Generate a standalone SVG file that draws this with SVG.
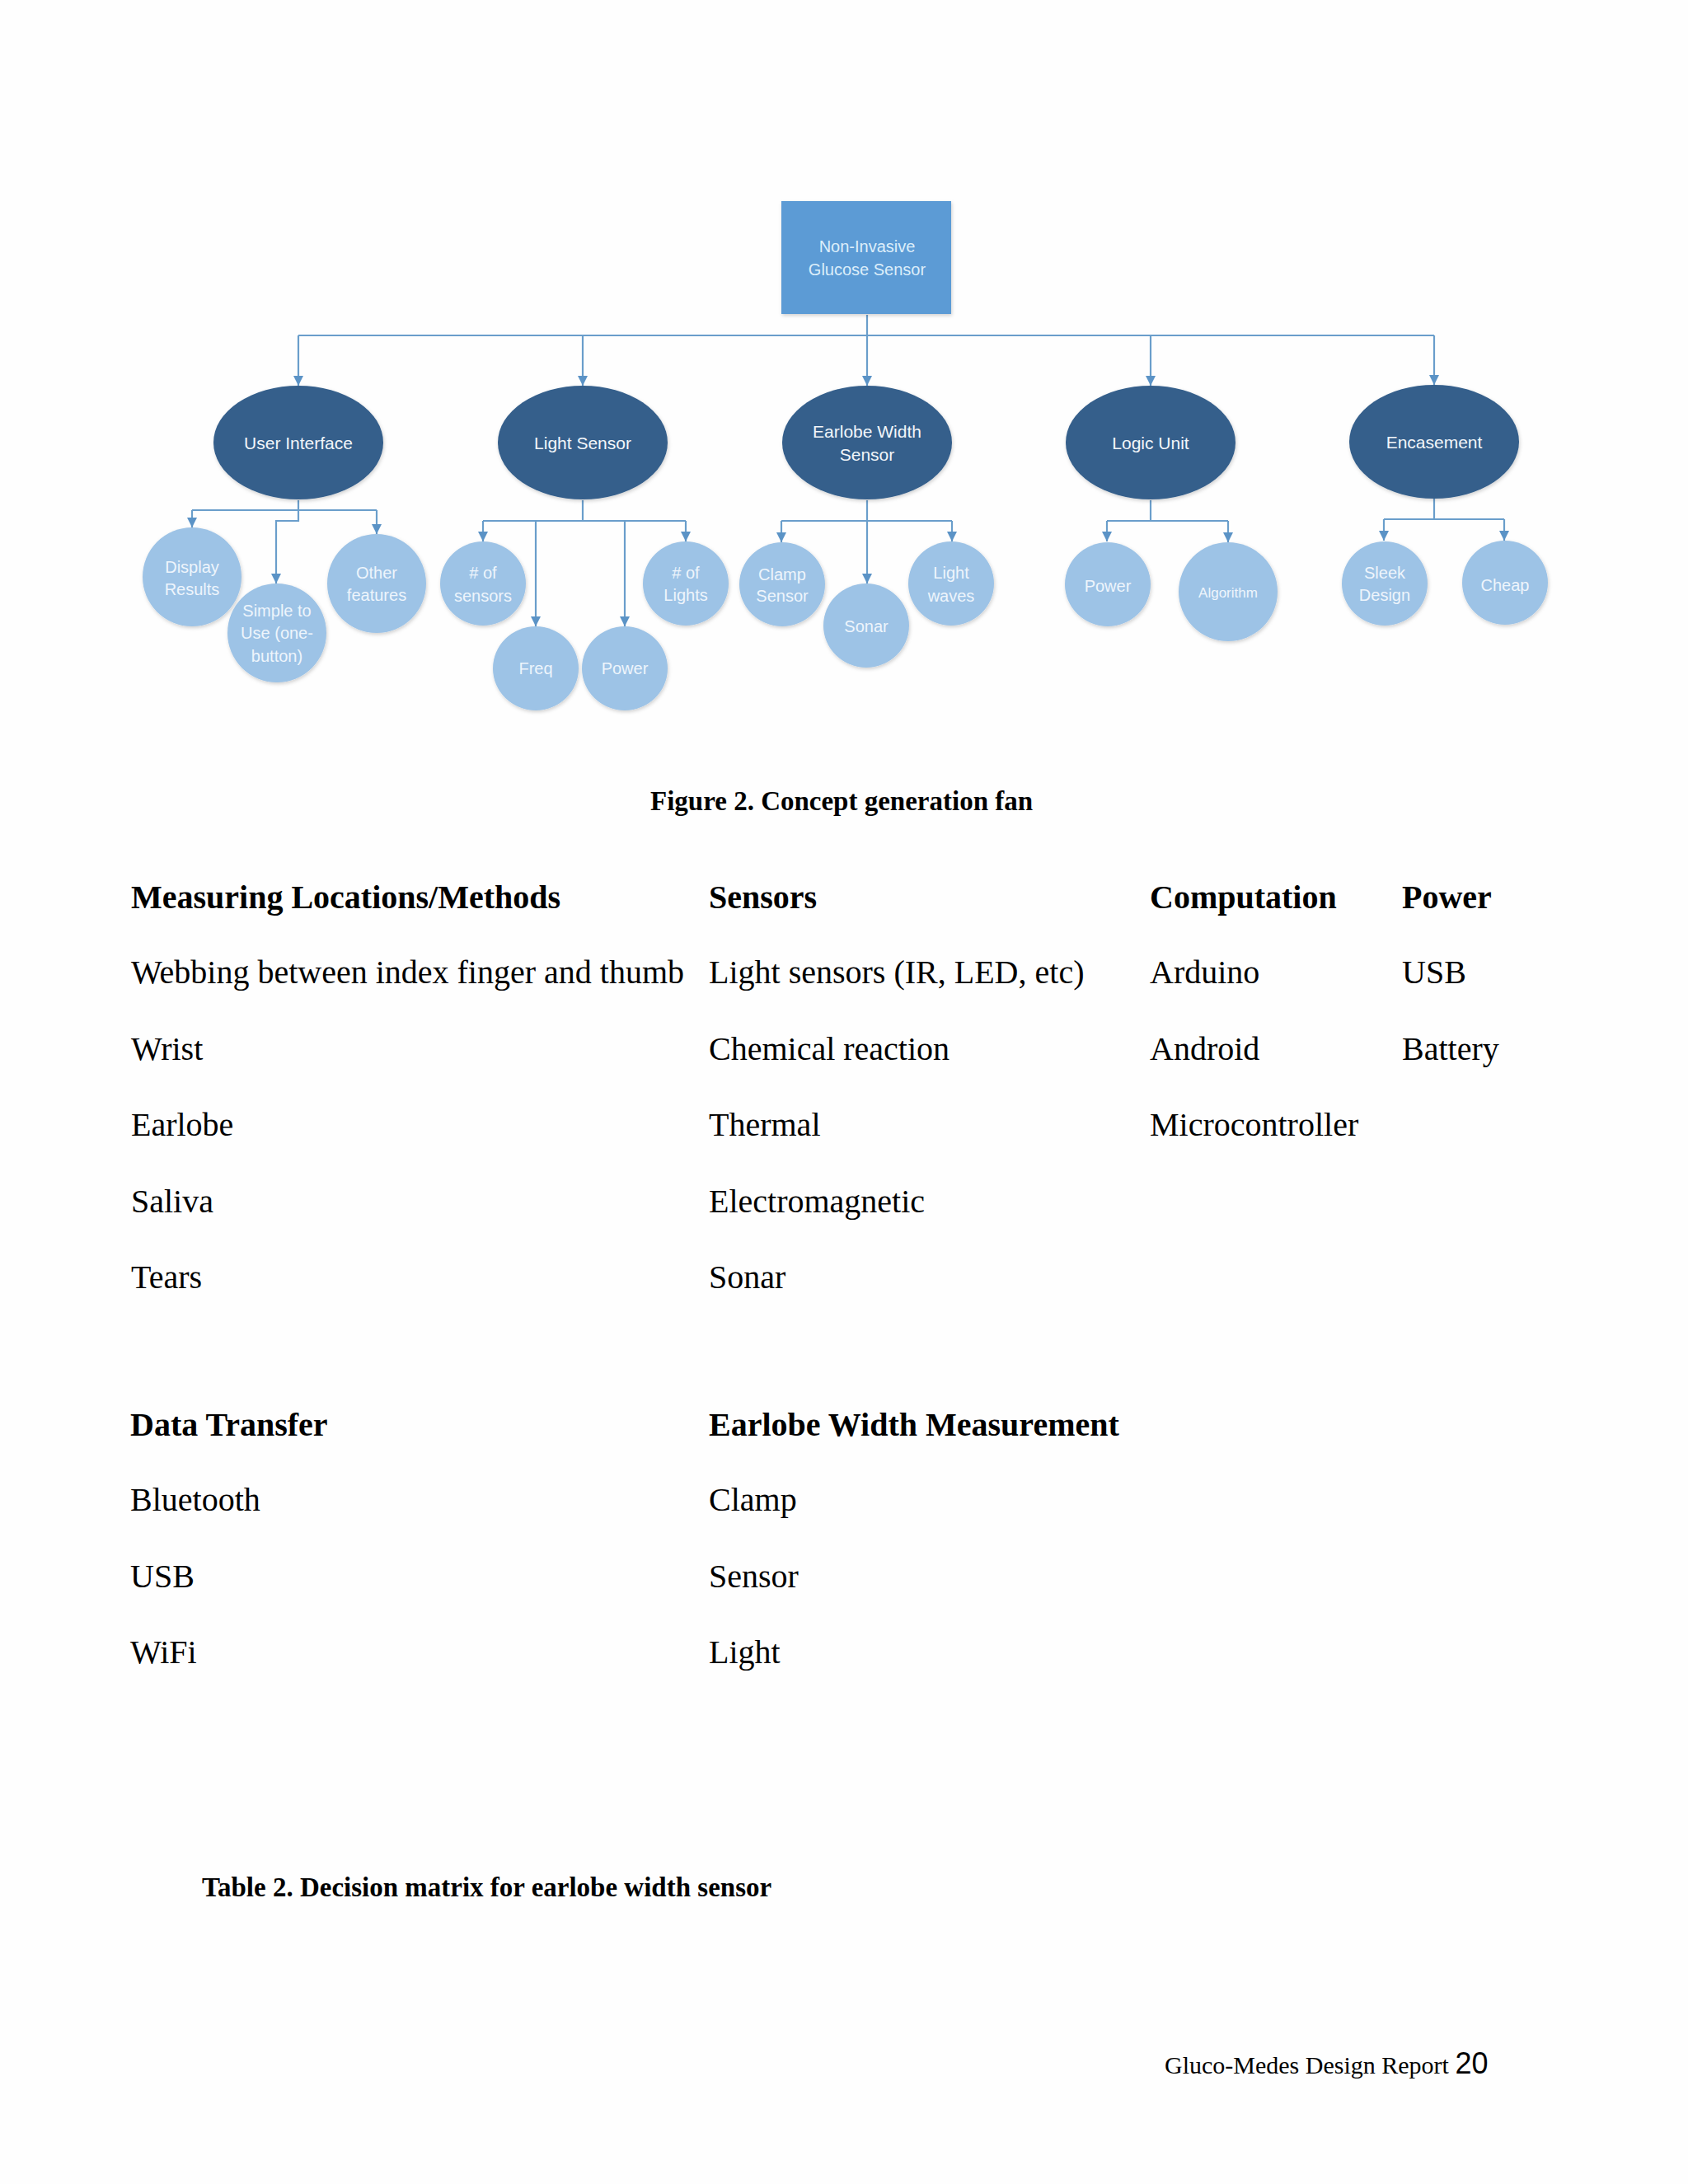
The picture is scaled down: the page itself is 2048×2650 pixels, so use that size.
<svg xmlns="http://www.w3.org/2000/svg" width="2048" height="2650" viewBox="0 0 2048 2650">
<style>
.root{fill:#5b9bd5;}
.l1{fill:#355f8b;}
.l2{fill:#9dc3e6;}
.conn{fill:none;stroke:#6a9ecb;stroke-width:2.2;}
.t0{font-family:"Liberation Sans",Arial,sans-serif;font-size:20px;fill:#dceefa;text-anchor:middle;}
.t1{font-family:"Liberation Sans",Arial,sans-serif;font-size:21px;fill:#f2f6fa;text-anchor:middle;}
.t2{font-family:"Liberation Sans",Arial,sans-serif;font-size:20px;fill:#eef5fc;text-anchor:middle;}
.t2s{font-family:"Liberation Sans",Arial,sans-serif;font-size:17px;fill:#eef5fc;text-anchor:middle;}
.body{font-family:"Liberation Serif","Times New Roman",serif;font-size:40px;fill:#000;}
.head{font-family:"Liberation Serif","Times New Roman",serif;font-size:40px;font-weight:bold;fill:#000;}
.cap{font-family:"Liberation Serif","Times New Roman",serif;font-size:33px;font-weight:bold;fill:#000;}
.foot{font-family:"Liberation Serif","Times New Roman",serif;font-size:30px;fill:#000;}
</style>
<defs>
<marker id="ad" markerUnits="userSpaceOnUse" markerWidth="14" markerHeight="14" viewBox="0 0 14 14" refX="7" refY="13" orient="0">
<path d="M1,1 L13,1 L7,13 Z" fill="#5b93c6"/>
</marker>
<filter id="sh" x="-20%" y="-20%" width="140%" height="140%">
<feDropShadow dx="1" dy="2" stdDeviation="2" flood-color="#000" flood-opacity="0.18"/>
</filter>
</defs>
<rect x="0" y="0" width="2048" height="2650" fill="#fefefe"/>

<g id="connectors" class="conn">
<path d="M1052,382 V407"/>
<path d="M362,407 H1740"/>
<path d="M362,407 V468" marker-end="url(#ad)"/>
<path d="M707,407 V468" marker-end="url(#ad)"/>
<path d="M1052,407 V468" marker-end="url(#ad)"/>
<path d="M1396,407 V468" marker-end="url(#ad)"/>
<path d="M1740,407 V467" marker-end="url(#ad)"/>

<path d="M362,607 V632 H335 V708" marker-end="url(#ad)"/>
<path d="M233,619 H457"/>
<path d="M233,619 V640" marker-end="url(#ad)"/>
<path d="M457,619 V648" marker-end="url(#ad)"/>

<path d="M707,607 V632"/>
<path d="M586,632 H832"/>
<path d="M586,632 V657" marker-end="url(#ad)"/>
<path d="M832,632 V657" marker-end="url(#ad)"/>
<path d="M650,632 V760" marker-end="url(#ad)"/>
<path d="M758,632 V760" marker-end="url(#ad)"/>

<path d="M1052,607 V708" marker-end="url(#ad)"/>
<path d="M948,632 H1155"/>
<path d="M948,632 V658" marker-end="url(#ad)"/>
<path d="M1155,632 V657" marker-end="url(#ad)"/>

<path d="M1396,607 V632"/>
<path d="M1343,632 H1490"/>
<path d="M1343,632 V657" marker-end="url(#ad)"/>
<path d="M1490,632 V658" marker-end="url(#ad)"/>

<path d="M1740,605 V630"/>
<path d="M1679,630 H1825"/>
<path d="M1679,630 V656" marker-end="url(#ad)"/>
<path d="M1825,630 V656" marker-end="url(#ad)"/>
</g>

<g id="n-root">
<rect class="root" x="948" y="244" width="206" height="137" filter="url(#sh)"/>
<text class="t0" x="1052" y="306">Non-Invasive</text>
<text class="t0" x="1052" y="334">Glucose Sensor</text>
</g>

<g id="n-ui">
<ellipse class="l1" cx="362" cy="537" rx="103" ry="69" filter="url(#sh)"/>
<text class="t1" x="362" y="545">User Interface</text>
</g>
<g id="n-light">
<ellipse class="l1" cx="707" cy="537" rx="103" ry="69" filter="url(#sh)"/>
<text class="t1" x="707" y="545">Light Sensor</text>
</g>
<g id="n-earlobe">
<ellipse class="l1" cx="1052" cy="537" rx="103" ry="69" filter="url(#sh)"/>
<text class="t1" x="1052" y="531">Earlobe Width</text>
<text class="t1" x="1052" y="559">Sensor</text>
</g>
<g id="n-logic">
<ellipse class="l1" cx="1396" cy="537" rx="103" ry="69" filter="url(#sh)"/>
<text class="t1" x="1396" y="545">Logic Unit</text>
</g>
<g id="n-encasement">
<ellipse class="l1" cx="1740" cy="536" rx="103" ry="69" filter="url(#sh)"/>
<text class="t1" x="1740" y="544">Encasement</text>
</g>

<g id="n-display">
<ellipse class="l2" cx="233" cy="700" rx="60" ry="60" filter="url(#sh)"/>
<text class="t2" x="233" y="695">Display</text>
<text class="t2" x="233" y="722">Results</text>
</g>
<g id="n-simple">
<ellipse class="l2" cx="336" cy="768" rx="60" ry="60" filter="url(#sh)"/>
<text class="t2" x="336" y="748">Simple to</text>
<text class="t2" x="336" y="775">Use (one-</text>
<text class="t2" x="336" y="803">button)</text>
</g>
<g id="n-other">
<ellipse class="l2" cx="457" cy="708" rx="60" ry="60" filter="url(#sh)"/>
<text class="t2" x="457" y="702">Other</text>
<text class="t2" x="457" y="729">features</text>
</g>

<g id="n-nsensors">
<ellipse class="l2" cx="586" cy="708" rx="52" ry="51" filter="url(#sh)"/>
<text class="t2" x="586" y="702"># of</text>
<text class="t2" x="586" y="730">sensors</text>
</g>
<g id="n-freq">
<ellipse class="l2" cx="650" cy="811" rx="52" ry="51" filter="url(#sh)"/>
<text class="t2" x="650" y="818">Freq</text>
</g>
<g id="n-power1">
<ellipse class="l2" cx="758" cy="811" rx="52" ry="51" filter="url(#sh)"/>
<text class="t2" x="758" y="818">Power</text>
</g>
<g id="n-nlights">
<ellipse class="l2" cx="832" cy="708" rx="52" ry="51" filter="url(#sh)"/>
<text class="t2" x="832" y="702"># of</text>
<text class="t2" x="832" y="729">Lights</text>
</g>

<g id="n-clamp">
<ellipse class="l2" cx="949" cy="709" rx="52" ry="51" filter="url(#sh)"/>
<text class="t2" x="949" y="704">Clamp</text>
<text class="t2" x="949" y="730">Sensor</text>
</g>
<g id="n-sonar">
<ellipse class="l2" cx="1051" cy="759" rx="52" ry="51" filter="url(#sh)"/>
<text class="t2" x="1051" y="767">Sonar</text>
</g>
<g id="n-lightwaves">
<ellipse class="l2" cx="1154" cy="708" rx="52" ry="51" filter="url(#sh)"/>
<text class="t2" x="1154" y="702">Light</text>
<text class="t2" x="1154" y="730">waves</text>
</g>

<g id="n-power2">
<ellipse class="l2" cx="1344" cy="709" rx="52" ry="51" filter="url(#sh)"/>
<text class="t2" x="1344" y="718">Power</text>
</g>
<g id="n-algorithm">
<ellipse class="l2" cx="1490" cy="718" rx="60" ry="60" filter="url(#sh)"/>
<text class="t2s" x="1490" y="725">Algorithm</text>
</g>

<g id="n-sleek">
<ellipse class="l2" cx="1680" cy="708" rx="52" ry="51" filter="url(#sh)"/>
<text class="t2" x="1680" y="702">Sleek</text>
<text class="t2" x="1680" y="729">Design</text>
</g>
<g id="n-cheap">
<ellipse class="l2" cx="1826" cy="707" rx="52" ry="51" filter="url(#sh)"/>
<text class="t2" x="1826" y="717">Cheap</text>
</g>

<g id="captions">
<text class="cap" x="789" y="983">Figure 2. Concept generation fan</text>
<text class="cap" x="245" y="2301">Table 2. Decision matrix for earlobe width sensor</text>
</g>

<g id="table1">
<text class="head" x="159" y="1102">Measuring Locations/Methods</text>
<text class="head" x="860" y="1102">Sensors</text>
<text class="head" x="1395" y="1102">Computation</text>
<text class="head" x="1701" y="1102">Power</text>
<text class="body" x="159" y="1193">Webbing between index finger and thumb</text>
<text class="body" x="860" y="1193">Light sensors (IR, LED, etc)</text>
<text class="body" x="1395" y="1193">Arduino</text>
<text class="body" x="1701" y="1193">USB</text>
<text class="body" x="159" y="1286">Wrist</text>
<text class="body" x="860" y="1286">Chemical reaction</text>
<text class="body" x="1395" y="1286">Android</text>
<text class="body" x="1701" y="1286">Battery</text>
<text class="body" x="159" y="1378">Earlobe</text>
<text class="body" x="860" y="1378">Thermal</text>
<text class="body" x="1395" y="1378">Microcontroller</text>
<text class="body" x="159" y="1471">Saliva</text>
<text class="body" x="860" y="1471">Electromagnetic</text>
<text class="body" x="159" y="1563">Tears</text>
<text class="body" x="860" y="1563">Sonar</text>
</g>

<g id="table2">
<text class="head" x="158" y="1742">Data Transfer</text>
<text class="head" x="860" y="1742">Earlobe Width Measurement</text>
<text class="body" x="158" y="1833">Bluetooth</text>
<text class="body" x="860" y="1833">Clamp</text>
<text class="body" x="158" y="1926">USB</text>
<text class="body" x="860" y="1926">Sensor</text>
<text class="body" x="158" y="2018">WiFi</text>
<text class="body" x="860" y="2018">Light</text>
</g>

<g id="footer">
<text class="foot" x="1413" y="2516">Gluco-Medes Design Report <tspan font-family="Liberation Sans, Arial, sans-serif" font-size="36">20</tspan></text>
</g>
</svg>
